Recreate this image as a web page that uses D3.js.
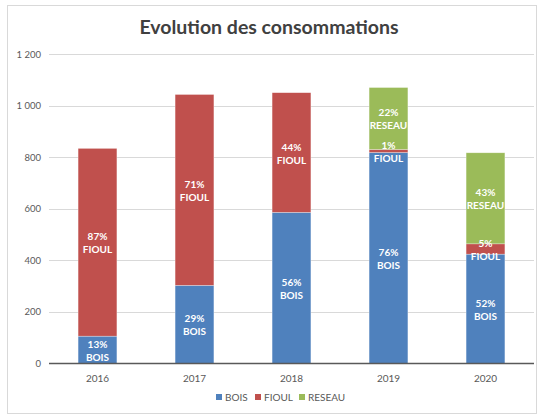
<!DOCTYPE html>
<html>
<head>
<meta charset="utf-8">
<script src="https://cdn.jsdelivr.net/npm/d3@7"></script>
<style>
body { margin: 0; background: #fff; }
svg text { font-family: Lato, "Open Sans", sans-serif; }
</style>
</head>
<body>
<script>
var years = ["2016", "2017", "2018", "2019", "2020"];
var series = ["BOIS", "FIOUL", "RESEAU"];
var bois = [106, 303, 586, 818, 424];
var fioul = [728, 740, 464, 12, 40];
var reseau = [0, 0, 0, 240, 353];
var yTicks = [0, 200, 400, 600, 800, 1000, 1200];
var colors = ["#4f81bd", "#c0504d", "#9bbb59"];

var width = 539, height = 416;
var svg = d3.select("body").append("svg")
    .attr("width", width)
    .attr("height", height);

// cadre du graphique
svg.append("rect")
    .attr("x", 7.5).attr("y", 5.5)
    .attr("width", 529).attr("height", 408)
    .attr("fill", "#fff")
    .attr("stroke", "#d9d9d9");

svg.append("text")
    .attr("x", 269).attr("y", 34)
    .attr("text-anchor", "middle")
    .attr("font-size", 19.5)
    .attr("font-weight", "bold")
    .attr("fill", "#404040")
    .text("Evolution des consommations");

var x = d3.scaleBand().domain(years).range([49, 534]).paddingInner(0.6).paddingOuter(0.3);
var y = d3.scaleLinear().domain([0, 1200]).range([363.5, 54]);

var fmt = function(v) { return d3.format(",")(v).replace(",", " "); };

// grille
svg.append("g").selectAll("line")
    .data(yTicks.filter(function(d) { return d > 0; }))
  .enter().append("line")
    .attr("x1", 49).attr("x2", 534)
    .attr("y1", function(d) { return Math.round(y(d)) + 0.5; })
    .attr("y2", function(d) { return Math.round(y(d)) + 0.5; })
    .attr("stroke", "#d9d9d9");

svg.append("g").selectAll("text")
    .data(yTicks)
  .enter().append("text")
    .attr("x", 41)
    .attr("y", function(d) { return y(d) + 3.5; })
    .attr("text-anchor", "end")
    .attr("font-size", 9.5)
    .attr("fill", "#595959")
    .text(fmt);

var table = years.map(function(yr, i) {
  return { year: yr, BOIS: bois[i], FIOUL: fioul[i], RESEAU: reseau[i] };
});
var stacked = d3.stack().keys(series)(table);

var layers = svg.append("g").selectAll("g")
    .data(stacked)
  .enter().append("g")
    .attr("fill", function(d, i) { return colors[i]; });

layers.selectAll("rect")
    .data(function(d) { return d; })
  .enter().append("rect")
    .filter(function(d) { return d[1] - d[0] > 0; })
    .attr("x", function(d) { return x(d.data.year); })
    .attr("width", x.bandwidth())
    .attr("y", function(d) { return y(d[1]); })
    .attr("height", function(d) { return y(d[0]) - y(d[1]); })
    .attr("stroke", "rgba(255,255,255,0.5)")
    .attr("stroke-width", 0.6);

// étiquettes
var labels = [];
stacked.forEach(function(layer, si) {
  layer.forEach(function(d) {
    var v = d[1] - d[0];
    if (v <= 0) return;
    var total = d.data.BOIS + d.data.FIOUL + d.data.RESEAU;
    labels.push({ year: d.data.year, name: series[si], pct: Math.round(v / total * 100) + "%", mid: y((d[0] + d[1]) / 2) });
  });
});

var lab = svg.append("g").selectAll("text")
    .data(labels)
  .enter().append("text")
    .attr("x", function(d) { return x(d.year) + x.bandwidth() / 2; })
    .attr("y", function(d) { return d.mid; })
    .attr("text-anchor", "middle")
    .attr("font-size", 10)
    .attr("font-weight", "bold")
    .attr("fill", "#fff");
lab.append("tspan").attr("x", function(d) { return x(d.year) + x.bandwidth() / 2; })
    .attr("dy", -2).text(function(d) { return d.pct; });
lab.append("tspan").attr("x", function(d) { return x(d.year) + x.bandwidth() / 2; })
    .attr("dy", 13).text(function(d) { return d.name; });

// axe horizontal
svg.append("line")
    .attr("x1", 49).attr("x2", 534)
    .attr("y1", 363.5).attr("y2", 363.5)
    .attr("stroke", "#595959").attr("stroke-width", 1.5);

svg.append("g").selectAll("text")
    .data(years)
  .enter().append("text")
    .attr("x", function(d) { return x(d) + x.bandwidth() / 2; })
    .attr("y", 382)
    .attr("text-anchor", "middle")
    .attr("font-size", 10)
    .attr("fill", "#595959")
    .text(function(d) { return d; });

// légende
var legX = [216, 255, 299];
var leg = svg.append("g").selectAll("g")
    .data(series)
  .enter().append("g")
    .attr("transform", function(d, i) { return "translate(" + legX[i] + ",401)"; });
leg.append("rect")
    .attr("x", 0).attr("y", -7)
    .attr("width", 6).attr("height", 6)
    .attr("fill", function(d, i) { return colors[i]; });
leg.append("text")
    .attr("x", 9).attr("y", 0)
    .attr("font-size", 10)
    .attr("fill", "#595959")
    .text(function(d) { return d; });
</script>
</body>
</html>
